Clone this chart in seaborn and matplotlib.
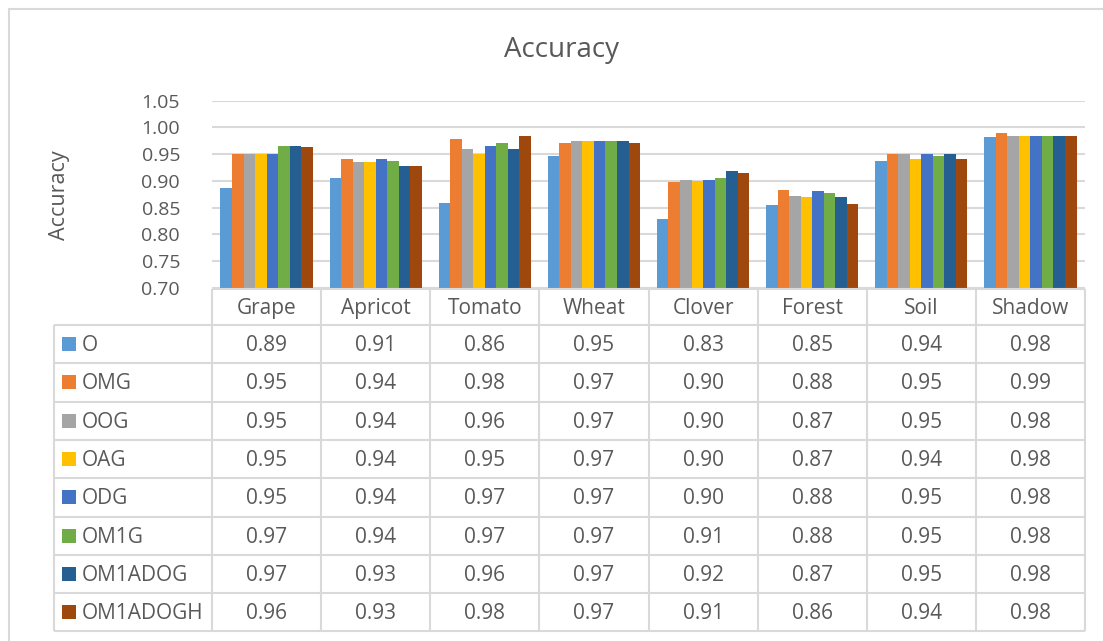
import matplotlib
matplotlib.use("Agg")
import matplotlib.pyplot as plt
from matplotlib.patches import Rectangle
from matplotlib.lines import Line2D
import seaborn as sns
import pandas as pd

# ---- data -------------------------------------------------------------
categories = ["Grape", "Apricot", "Tomato", "Wheat", "Clover", "Forest", "Soil", "Shadow"]
methods = ["O", "OMG", "OOG", "OAG", "ODG", "OM1G", "OM1ADOG", "OM1ADOGH"]

acc_O        = [0.887, 0.906, 0.858, 0.947, 0.828, 0.854, 0.937, 0.982]
acc_OMG      = [0.951, 0.941, 0.979, 0.970, 0.898, 0.882, 0.951, 0.989]
acc_OOG      = [0.950, 0.936, 0.959, 0.974, 0.901, 0.872, 0.950, 0.984]
acc_OAG      = [0.950, 0.935, 0.950, 0.974, 0.900, 0.870, 0.940, 0.984]
acc_ODG      = [0.951, 0.941, 0.966, 0.974, 0.901, 0.881, 0.951, 0.984]
acc_OM1G     = [0.966, 0.937, 0.970, 0.974, 0.906, 0.878, 0.946, 0.984]
acc_OM1ADOG  = [0.966, 0.927, 0.959, 0.974, 0.919, 0.869, 0.951, 0.984]
acc_OM1ADOGH = [0.964, 0.927, 0.984, 0.970, 0.914, 0.856, 0.941, 0.984]

series = [acc_O, acc_OMG, acc_OOG, acc_OAG, acc_ODG, acc_OM1G, acc_OM1ADOG, acc_OM1ADOGH]
colors = ["#5B9BD5", "#ED7D31", "#A5A5A5", "#FFC000", "#4472C4", "#70AD47", "#255E91", "#9E480E"]

yticks = [0.70, 0.75, 0.80, 0.85, 0.90, 0.95, 1.00, 1.05]

df = pd.DataFrame(
    [(c, m, v) for m, vals in zip(methods, series) for c, v in zip(categories, vals)],
    columns=["Category", "Method", "Accuracy"],
)

# ---- style ------------------------------------------------------------
sns.set_style("white")
plt.rcParams["font.family"] = ["Open Sans", "DejaVu Sans"]
TXT = "#595959"
GRID = "#D9D9D9"

W, H = 1103, 641
fig = plt.figure(figsize=(W / 100, H / 100), dpi=100)


def fx(px):
    return px / W


def fy(py):
    return 1 - py / H


# layout in pixels
plot_l, plot_r = 212, 1085
plot_t, plot_b = 100.7, 287.7
tab_l, tab_t, head_b, tab_b = 54, 289, 325, 631.5

# ---- bar chart --------------------------------------------------------
ax = fig.add_axes([fx(plot_l), fy(plot_b), (plot_r - plot_l) / W, (plot_b - plot_t) / H])
sns.barplot(
    data=df, x="Category", y="Accuracy", hue="Method", hue_order=methods,
    order=categories, palette=colors, width=0.845, gap=0, saturation=1,
    errorbar=None, legend=False, linewidth=0, ax=ax,
)
ax.set_ylim(0.70, 1.05)
ax.set_xlim(-0.5, len(categories) - 0.5)
ax.set_yticks(yticks)
ax.set_yticklabels([f"{t:.2f}" for t in yticks])
ax.tick_params(axis="y", length=0, pad=23, labelsize=14, labelcolor=TXT)
ax.tick_params(axis="x", length=0, labelbottom=False)
ax.set_xlabel("")
ax.set_ylabel("")
ax.yaxis.grid(True, color=GRID, linewidth=1.5)
ax.set_axisbelow(True)
for s in ax.spines.values():
    s.set_visible(False)

fig.text(fx(562), fy(50), "Accuracy", ha="center", va="center", fontsize=20, color=TXT)
fig.text(fx(60), fy(195), "Accuracy", ha="center", va="center", rotation=90,
         fontsize=15.5, color=TXT)

# ---- data table -------------------------------------------------------
tab = fig.add_axes([fx(tab_l), fy(tab_b), (plot_r - tab_l) / W, (tab_b - tab_t) / H])
tab.set_xlim(tab_l, plot_r)
tab.set_ylim(tab_b, tab_t)
tab.axis("off")

cw = (plot_r - plot_l) / len(categories)
rh = (tab_b - head_b) / len(methods)
lkw = dict(color=GRID, linewidth=1.5, clip_on=False, solid_capstyle="butt")
dy = 1.5  # nudge so glyphs sit visually centred in their cells

# header row
tab.plot([plot_l, plot_r], [tab_t, tab_t], **lkw)
for i, cat in enumerate(categories):
    tab.text(plot_l + (i + 0.5) * cw, (tab_t + head_b) / 2 + dy, cat, ha="center",
             va="center", fontsize=15, color=TXT)
# vertical lines for category columns
for i in range(len(categories) + 1):
    tab.plot([plot_l + i * cw] * 2, [tab_t, tab_b], **lkw)
tab.plot([tab_l, tab_l], [head_b, tab_b], **lkw)
# horizontal lines for data rows
for j in range(len(methods) + 1):
    y = head_b + j * rh
    tab.plot([tab_l, plot_r], [y, y], **lkw)

for j, (m, vals, col) in enumerate(zip(methods, series, colors)):
    yc = head_b + (j + 0.5) * rh
    tab.add_patch(Rectangle((62, yc - 7), 14, 14, facecolor=col, edgecolor="none", clip_on=False))
    tab.text(82, yc + dy, m, ha="left", va="center", fontsize=15, color=TXT)
    for i, v in enumerate(vals):
        tab.text(plot_l + (i + 0.5) * cw, yc + dy, f"{v:.2f}", ha="center", va="center",
                 fontsize=15, color=TXT)

# ---- chart frame ------------------------------------------------------
fig.add_artist(Line2D([fx(8.5), fx(8.5)], [fy(8.5), 0], color=GRID, linewidth=1.5))
fig.add_artist(Line2D([fx(8.5), 1], [fy(8.5), fy(8.5)], color=GRID, linewidth=1.5))

fig.savefig("out.png", dpi=100, facecolor="white")
